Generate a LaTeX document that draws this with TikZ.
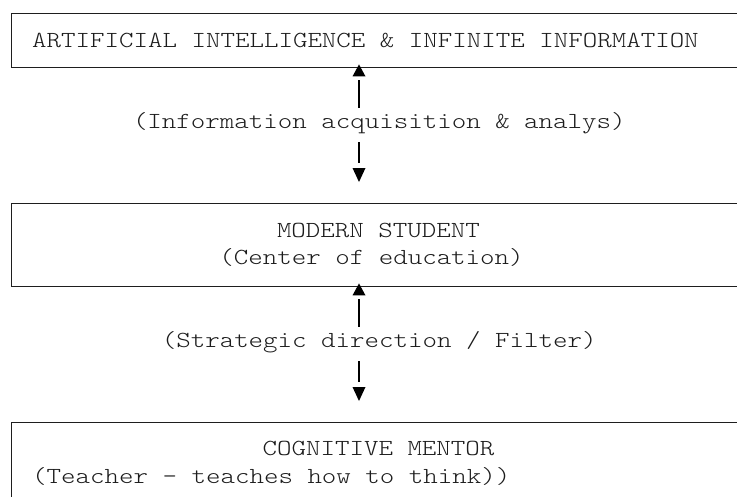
\documentclass[tikz,border=0pt]{standalone}
\usepackage{fontspec}
\newfontfamily\courlike[FakeStretch=1.2]{Latin Modern Mono Light}
\definecolor{ink}{HTML}{1C1C1C}
\definecolor{rule}{HTML}{1E1E1E}
\begin{document}
\begin{tikzpicture}[x=1pt,y=-1pt,
  box/.style={draw=rule, line width=1.4pt, rectangle, inner sep=0pt, anchor=north west, minimum width=740pt},
  txt/.style={text=ink, font=\courlike\fontsize{23}{28}\selectfont, inner sep=0pt, anchor=base west},
  link/.style={draw=black, line width=1.3pt},
  tip/.style={fill=black}]
\useasboundingbox (0,0) rectangle (737,496);
\clip (0,0) rectangle (737,496);

% boxes (open to the right edge of the picture)
\node[box, minimum height=54pt] (box1) at (11,13) {};
\node[box, minimum height=83pt] (box2) at (11,203) {};
\node[box, minimum height=90pt] (box3) at (11,422) {};

% box texts
\node[txt] (t1)  at (32,47)     {ARTIFICIAL INTELLIGENCE \& INFINITE INFORMATION};
\node[txt] (t2a) at (276.8,237) {MODERN STUDENT};
\node[txt] (t2b) at (219.2,264) {(Center of education)};
\node[txt] (t3a) at (262.4,455) {COGNITIVE MENTOR};
\node[txt] (t3b) at (32,483)    {(Teacher - teaches how to think))};

% connector labels
\node[txt] (lab1) at (132.8,128) {(Information acquisition \& analys)};
\node[txt] (lab2) at (161.6,347) {(Strategic direction / Filter)};

% connector 1 : box1 <-> box2
\coordinate (u1) at (box1.south -| 359,0);
\coordinate (d1) at (box2.north -| 359,0);
\fill[tip] (u1) ++(0,-4) -- ++(6.5,12) -- ++(-13,0) -- cycle;
\draw[link] (u1) ++(0,12) -- ++(0,28);
\draw[link] (d1) ++(0,-61) -- ++(0,21);
\fill[tip] (d1) ++(0,-21) -- ++(6.5,-14) -- ++(-13,0) -- cycle;

% connector 2 : box2 <-> box3
\coordinate (u2) at (box2.south -| 359,0);
\coordinate (d2) at (box3.north -| 359,0);
\fill[tip] (u2) ++(0,-4) -- ++(6.5,12) -- ++(-13,0) -- cycle;
\draw[link] (u2) ++(0,12) -- ++(0,28);
\draw[link] (d2) ++(0,-61) -- ++(0,21);
\fill[tip] (d2) ++(0,-21) -- ++(6.5,-14) -- ++(-13,0) -- cycle;
\end{tikzpicture}
\end{document}
